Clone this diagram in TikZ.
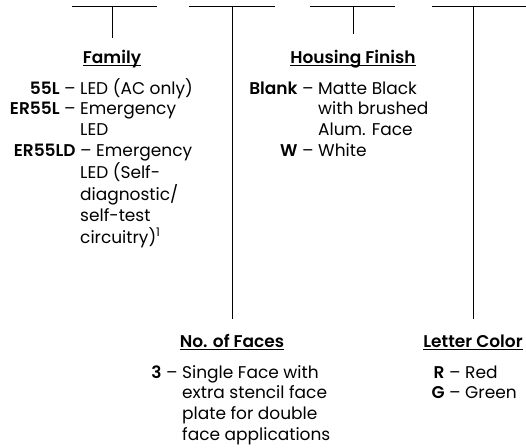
\documentclass[tikz,border=0pt]{standalone}
\usepackage{fontspec}
\setmainfont{Poppins}[BoldFont={Poppins SemiBold}]
\usetikzlibrary{positioning}

% underlined heading, hanging label, top-aligned list
\newcommand\hdr[1]{\setbox0\hbox{\bfseries #1}\rlap{\rule[-3pt]{\wd0}{0.8pt}}\box0}
\newcommand\lab[1]{\llap{\textbf{#1} -- }}
\newcommand\opts[1]{\begin{tabular}[t]{@{}l@{}}#1\end{tabular}}

\begin{document}
\begin{tikzpicture}[x=1pt, y=-1pt,
  font=\fontsize{17}{20.7}\selectfont,
  bar/.style={line width=0.8pt},
  title/.style={inner sep=0pt, anchor=base},
  entry/.style={inner sep=0pt, anchor=base west},
  link/.style={line width=0.8pt, shorten >=15pt}
]
\useasboundingbox (0,0) rectangle (526,447);

% bars along the top
\coordinate (famw) at (72,6);   \coordinate (fame) at (157,6);
\coordinate (facw) at (189,6);  \coordinate (face) at (275,6);
\coordinate (houw) at (310,6);  \coordinate (houe) at (395,6);
\coordinate (colw) at (432,6);  \coordinate (cole) at (526,6);
\draw[bar] (famw) -- (fame);
\draw[bar] (facw) -- (face);
\draw[bar] (houw) -- (houe);
\draw[bar] (colw) -- (cole);
\coordinate (famtop) at (112,6);
\coordinate (factop) at (232,6);
\coordinate (houtop) at (353,6);
\coordinate (coltop) at (473,6);

% headings
\node[title] (family) at (112,63) {\hdr{Family}};
\node[title] (housing) at (353,63) {\hdr{Housing Finish}};
\node[title] (faces) at (232,347) {\hdr{No. of Faces}};
\node[title] (color) at (473,347) {\hdr{Letter Color}};

\draw[link, shorten >=11pt] (famtop) -- (family);
\draw[link] (houtop) -- (housing);
\draw[link] (factop) -- (faces);
\draw[link] (coltop) -- (color);

% option lists
\node[entry] (famlist) at (80,94) {\opts{\lab{55L}LED (AC only)\\
  \lab{ER55L}Emergency\\
  LED\\
  \llap{\textbf{ER55LD} }-- Emergency\\
  LED (Self-\\
  diagnostic/\\
  self-test\\
  circuitry)\textsuperscript{1}}};
\node[entry] (houlist) at (318,94) {\opts{\lab{Blank}Matte Black\\
  with brushed\\
  Alum. Face\\
  \lab{W}White}};
\node[entry] (faclist) at (182,378) {\opts{\lab{3}Single Face with\\
  extra stencil face\\
  plate for double\\
  face applications}};
\node[entry] (collist) at (465,378) {\opts{\lab{R}Red\\
  \lab{G}Green}};
\end{tikzpicture}
\end{document}
